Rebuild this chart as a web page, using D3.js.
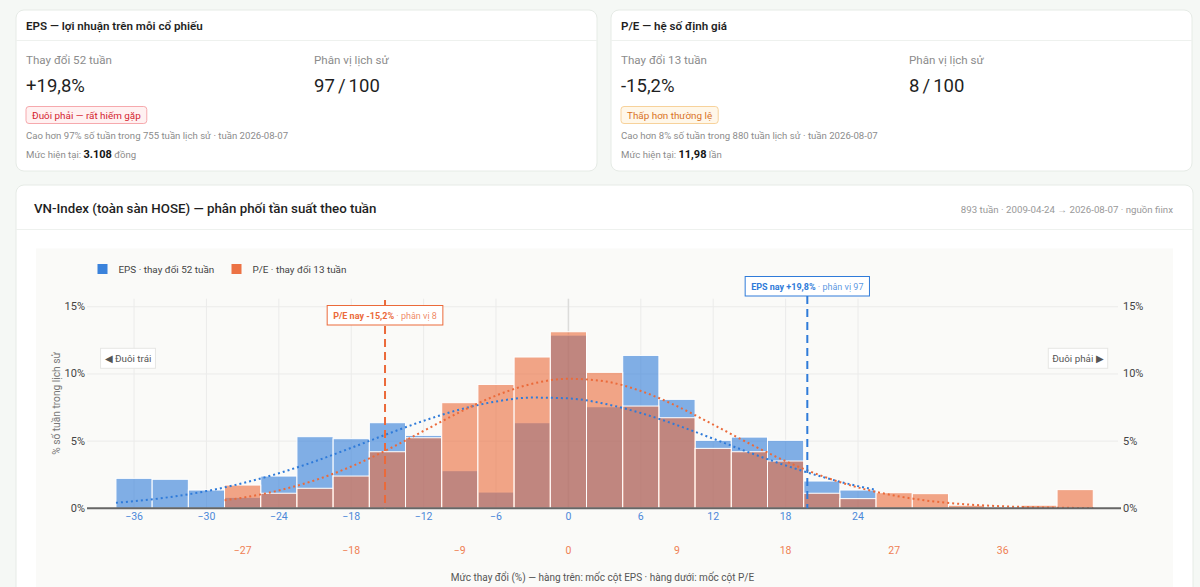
<!DOCTYPE html>
<html>
<head>
<meta charset="utf-8">
<script src="https://cdn.jsdelivr.net/npm/d3@7"></script>
<style>
    body { margin: 0; background: #f5f8f5; }
    svg { display: block; font-family: "Segoe UI", Roboto, "Noto Sans", sans-serif; }
</style>
</head>
<body>
<svg id="page" width="1200" height="587"></svg>
<script>
// Histogram bins (centre of each 3-point bin, in % change)
const epsBins = [-36, -33, -30, -27, -24, -21, -18, -15, -12, -9, -6, -3, 0, 3, 6, 9, 12, 15, 18, 21, 24];
const epsPct = [2.23, 2.16, 1.36, 0.82, 2.40, 5.33, 5.18, 6.37, 5.43, 2.80, 1.21, 6.37, 12.89, 7.56, 11.38, 8.11, 5.06, 5.30, 5.06, 2.03, 1.36];

const peBins = [-27, -24, -21, -18, -15, -12, -9, -6, -3, 0, 3, 6, 9, 12, 15, 18, 21, 24, 27, 30, 33, 36, 39, 42];
const pePct = [1.73, 1.12, 1.49, 2.40, 4.21, 5.25, 7.86, 9.22, 11.26, 13.14, 10.12, 7.61, 6.74, 4.46, 4.21, 3.52, 1.12, 0.72, 1.16, 1.09, 0.23, 0, 0.23, 1.39];

// Fitted curves
const epsCurveX = [-37.5, -36, -33, -30, -27, -24, -21, -18, -15, -12, -9, -6, -3, 0, 3, 6, 9, 12, 15, 18, 21, 24, 25.5];
const epsCurveY = [0.41, 0.53, 0.84, 1.28, 1.87, 2.61, 3.50, 4.50, 5.53, 6.51, 7.35, 7.95, 8.24, 8.18, 7.78, 7.09, 6.19, 5.18, 4.15, 3.19, 2.35, 1.65, 1.37];
const peCurveX = [-28.5, -27, -24, -21, -18, -15, -12, -9, -6, -3, 0, 3, 6, 9, 12, 15, 18, 21, 24, 27, 30, 33, 36, 39, 42, 43.5];
const peCurveY = [0.60, 0.79, 1.33, 2.09, 3.11, 4.36, 5.76, 7.16, 8.39, 9.27, 9.64, 9.45, 8.73, 7.60, 6.23, 4.82, 3.51, 2.41, 1.55, 0.95, 0.54, 0.29, 0.15, 0.07, 0.03, 0.02];

// Current readings
const epsNow = 19.8, peNow = -15.2;

// Tick labels
const epsTicks = [-36, -30, -24, -18, -12, -6, 0, 6, 12, 18, 24];
const peTicks = [-27, -18, -9, 0, 9, 18, 27, 36];
const yTicks = [0, 5, 10, 15];

const binWidth = 3;
const epsColor = "#2f7bd9", peColor = "#eb6a3a";

const svg = d3.select("#page");

// ---- helpers
const txt = (g, x, y, s, size, fill, weight, anchor) => g.append("text")
    .attr("x", x).attr("y", y)
    .attr("dominant-baseline", "central")
    .attr("text-anchor", anchor || "start")
    .style("font-size", size + "px")
    .style("font-weight", weight || 400)
    .style("fill", fill)
    .text(s);

// ---- summary cards
const cards = [
    {x: 16, title: "EPS — lợi nhuận trên mỗi cổ phiếu", lab1: "Thay đổi 52 tuần", val1: "+19,8%",
     lab2: "Phân vị lịch sử", val2: "97 / 100", badge: "Đuôi phải — rất hiếm gặp",
     bFill: "#fff1f1", bStroke: "#f6a9ad", bText: "#d4242f",
     note: "Cao hơn 97% số tuần trong 755 tuần lịch sử · tuần 2026-08-07", level: "3.108", unit: " đồng"},
    {x: 611, title: "P/E — hệ số định giá", lab1: "Thay đổi 13 tuần", val1: "-15,2%",
     lab2: "Phân vị lịch sử", val2: "8 / 100", badge: "Thấp hơn thường lệ",
     bFill: "#fff7e9", bStroke: "#f7d29b", bText: "#d9721f",
     note: "Cao hơn 8% số tuần trong 880 tuần lịch sử · tuần 2026-08-07", level: "11,98", unit: " lần"}
];

cards.forEach(c => {
    let g = svg.append("g").attr("transform", "translate(" + c.x + ",10)");
    g.append("rect").attr("width", 581).attr("height", 161).attr("rx", 8)
        .style("fill", "#fff").style("stroke", "#e6ebe6");
    g.append("line").attr("x1", 0).attr("x2", 581).attr("y1", 30.5).attr("y2", 30.5)
        .style("stroke", "#eef1ee");
    txt(g, 10, 16, c.title, 11.6, "#1f1f1f", 600);
    txt(g, 10, 50, c.lab1, 11.6, "#8c8c8c");
    txt(g, 10, 76, c.val1, 18.5, "#1f1f1f");
    txt(g, 298, 50, c.lab2, 11.6, "#8c8c8c");
    txt(g, 298, 76, c.val2, 18.5, "#1f1f1f").style("word-spacing", "-1.5px");

    let b = txt(g, 16, 105, c.badge, 9.9, c.bText);
    let bw = b.node().getComputedTextLength();
    g.insert("rect", "text:last-of-type")
        .attr("x", 10).attr("y", 96.5).attr("width", bw + 12).attr("height", 17).attr("rx", 3)
        .style("fill", c.bFill).style("stroke", c.bStroke);
    b.raise();

    txt(g, 10, 125, c.note, 9.6, "#8c8c8c");
    let m = txt(g, 10, 144, "Mức hiện tại: ", 9.6, "#8c8c8c");
    m.append("tspan").style("font-size", "11px").style("font-weight", 700).style("fill", "#141414").text(c.level);
    m.append("tspan").text(c.unit);
});

// ---- chart card
const card = svg.append("g").attr("transform", "translate(16,185)");
card.append("rect").attr("width", 1177).attr("height", 430).attr("rx", 8)
    .style("fill", "#fff").style("stroke", "#e6ebe6");
card.append("line").attr("x1", 0).attr("x2", 1177).attr("y1", 44.5).attr("y2", 44.5)
    .style("stroke", "#eef1ee");
txt(card, 18, 23.5, "VN-Index (toàn sàn HOSE) — phân phối tần suất theo tuần", 13.3, "#1f1f1f", 500);
txt(card, 1157, 24, "893 tuần · 2009-04-24 → 2026-08-07 · nguồn fiinx", 9.7, "#999", 400, "end");
card.append("rect").attr("x", 20).attr("y", 63.5).attr("width", 1137).attr("height", 400)
    .style("fill", "#fafaf8");

// ---- plot
const x = d3.scaleLinear().domain([-39.9, 45.55]).range([87, 1118]);
const y = d3.scaleLinear().domain([0, 15.6]).range([508.3, 298.7]);
const plot = svg.append("g");

// grid
plot.append("g").selectAll("line").data(yTicks.filter(d => d > 0)).enter().append("line")
    .attr("x1", x.range()[0]).attr("x2", x.range()[1])
    .attr("y1", d => y(d)).attr("y2", d => y(d))
    .style("stroke", "#ebebea");
plot.append("g").selectAll("line").data(epsTicks).enter().append("line")
    .attr("x1", d => x(d)).attr("x2", d => x(d))
    .attr("y1", y.range()[1]).attr("y2", y(0))
    .style("stroke", d => d === 0 ? "#dcdcda" : "#ebebea")
    .style("stroke-width", d => d === 0 ? 1.5 : 1);

// bars: EPS first, P/E on top
const drawBars = (bins, vals, color) => plot.append("g").selectAll("rect")
    .data(bins.map((b, i) => ({b: b, v: vals[i]})).filter(d => d.v > 0))
    .enter().append("rect")
    .attr("x", d => x(d.b - binWidth / 2))
    .attr("width", d => x(d.b + binWidth / 2) - x(d.b - binWidth / 2))
    .attr("y", d => y(d.v))
    .attr("height", d => y(0) - y(d.v))
    .style("fill", color)
    .style("fill-opacity", 0.6)
    .style("stroke", "#fff")
    .style("stroke-width", 1);
drawBars(epsBins, epsPct, epsColor);
drawBars(peBins, pePct, peColor);

// fitted curves
const line = d3.line().x(d => x(d[0])).y(d => y(d[1])).curve(d3.curveMonotoneX);
[[epsCurveX, epsCurveY, epsColor], [peCurveX, peCurveY, peColor]].forEach(([cx, cy, col]) => {
    plot.append("path")
        .datum(cx.map((v, i) => [v, cy[i]]))
        .attr("d", line)
        .style("fill", "none")
        .style("stroke", col)
        .style("stroke-width", 2)
        .style("stroke-dasharray", "2,3");
});

// baseline
plot.append("line").attr("x1", x.range()[0]).attr("x2", 1121)
    .attr("y1", y(0)).attr("y2", y(0))
    .style("stroke", "#666").style("stroke-width", 2);

// y axes labels
plot.append("g").selectAll("text").data(yTicks).enter().append("text")
    .attr("x", 85).attr("y", d => y(d)).attr("dominant-baseline", "central").attr("text-anchor", "end")
    .style("font-size", "11px").style("fill", "#444").text(d => d + "%");
plot.append("g").selectAll("text").data(yTicks).enter().append("text")
    .attr("x", 1123).attr("y", d => y(d)).attr("dominant-baseline", "central")
    .style("font-size", "11px").style("fill", "#444").text(d => d + "%");
txt(plot, 0, 0, "% số tuần trong lịch sử", 10.2, "#777", 400, "middle")
    .attr("transform", "translate(56," + ((y(0) + y.range()[1]) / 2) + ") rotate(-90)");

// x axes: EPS row and P/E row
const fmt = d3.format("d");
plot.append("g").selectAll("text").data(epsTicks).enter().append("text")
    .attr("x", d => x(d)).attr("y", 516).attr("dominant-baseline", "central").attr("text-anchor", "middle")
    .style("font-size", "10.5px").style("fill", "#4c88d8").text(fmt);
plot.append("g").selectAll("text").data(peTicks).enter().append("text")
    .attr("x", d => x(d)).attr("y", 550).attr("dominant-baseline", "central").attr("text-anchor", "middle")
    .style("font-size", "10.5px").style("fill", "#ef8054").text(fmt);
txt(plot, (x.range()[0] + x.range()[1]) / 2, 577, "Mức thay đổi (%) — hàng trên: mốc cột EPS · hàng dưới: mốc cột P/E", 10, "#555", 400, "middle");

// current-value markers
const marker = (v, color, top, boxY, bold, rest) => {
    plot.append("line").attr("x1", x(v)).attr("x2", x(v)).attr("y1", top).attr("y2", y(0))
        .style("stroke", color).style("stroke-width", 2).style("stroke-dasharray", "8,5");
    let g = plot.append("g");
    let t = txt(g, x(v), boxY + 10, "", 9, color, 400, "middle");
    t.append("tspan").style("font-weight", 700).text(bold);
    t.append("tspan").style("fill-opacity", 0.8).text(rest);
    let w = t.node().getComputedTextLength() + 12;
    g.insert("rect", "text").attr("x", x(v) - w / 2).attr("y", boxY).attr("width", w).attr("height", 19.5)
        .style("fill", "#fff").style("stroke", color).style("stroke-width", 1);
};
marker(peNow, peColor, 300, 305.5, "P/E nay -15,2%", " · phân vị 8");
marker(epsNow, epsColor, 296, 276.5, "EPS nay +19,8%", " · phân vị 97");

// tail labels
[[128, "◀ Đuôi trái"], [1078, "Đuôi phải ▶"]].forEach(([cx, s]) => {
    let g = plot.append("g");
    let t = txt(g, cx, 358.3, s, 9.8, "#555", 400, "middle");
    let w = t.node().getComputedTextLength() + 8;
    g.insert("rect", "text").attr("x", cx - w / 2).attr("y", 348.3).attr("width", w).attr("height", 20)
        .style("fill", "#fff").style("stroke", "#e6e6e4");
});

// legend
[[97.5, epsColor, "EPS · thay đổi 52 tuần"], [231.5, peColor, "P/E · thay đổi 13 tuần"]].forEach(([lx, col, s]) => {
    plot.append("rect").attr("x", lx).attr("y", 264).attr("width", 10).attr("height", 10)
        .style("fill", col).style("fill-opacity", 0.95);
    txt(plot, lx + 21, 269, s, 9.9, "#444");
});
</script>
</body>
</html>
